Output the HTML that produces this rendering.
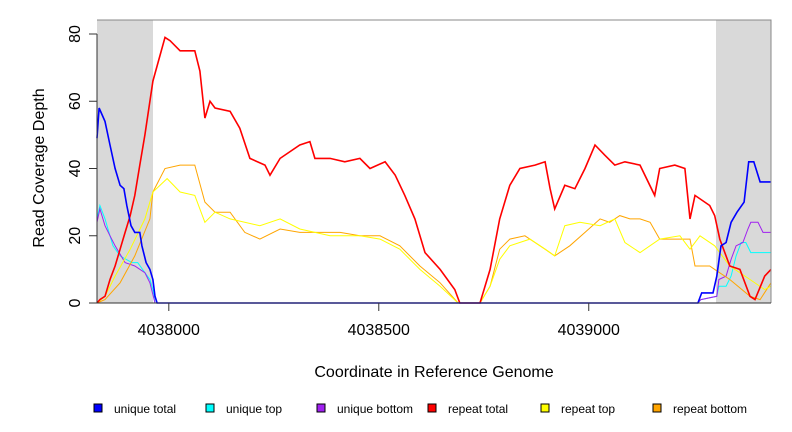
<!DOCTYPE html>
<html><head><meta charset="utf-8"><style>
body{margin:0;background:#fff;}
svg{display:block;font-family:"Liberation Sans",sans-serif;}
</style></head><body>
<svg id="chart" width="792" height="432">
  <rect x="97" y="20" width="56" height="283" fill="#d9d9d9"/>
  <rect x="716" y="20" width="55" height="283" fill="#d9d9d9"/>
  <g id="series"></g>
  <path d="M97 20H771V303" fill="none" stroke="#888" stroke-width="1"/>
  <line x1="97" y1="303" x2="771" y2="303" stroke="#333"/>
  <line x1="97" y1="34" x2="97" y2="303" stroke="#333"/>
  <g id="axes"></g>
  <text x="434" y="377" text-anchor="middle" font-size="16" fill="#000">Coordinate in Reference Genome</text>
  <text transform="translate(44,168) rotate(-90)" text-anchor="middle" font-size="16" fill="#000">Read Coverage Depth</text>
  <g id="legend"></g>
</svg>
<script>
const yTicks=[0,20,40,60,80];
const xTicks=[4038000,4038500,4039000];
const xTickLabels=["4038000","4038500","4039000"];
const repeatTotalX=[4037829,4037836,4037848,4037860,4037872,4037884,4037896,4037908,4037919,4037931,4037943,4037955,4037962,4037991,4038003,4038027,4038062,4038074,4038086,4038098,4038110,4038146,4038169,4038193,4038229,4038241,4038265,4038312,4038336,4038348,4038384,4038419,4038455,4038479,4038515,4038539,4038562,4038586,4038610,4038646,4038681,4038693,4038741,4038765,4038788,4038812,4038836,4038872,4038896,4038908,4038919,4038943,4038967,4038991,4039015,4039038,4039062,4039086,4039122,4039157,4039169,4039205,4039229,4039241,4039253,4039288,4039300,4039312,4039336,4039360,4039384,4039396,4039419,4039434];
const repeatTotal=[0,1,2,7,11,16,21,26,32,41,50,60,66,79,78,75,75,69,55,60,58,57,52,43,41,38,43,47,48,43,43,42,43,40,42,38,32,25,15,10,4,0,0,10,25,35,40,41,42,34,28,35,34,40,47,44,41,42,41,32,40,41,40,25,32,29,26,19,11,10,2,1,8,10];
const repeatTopX=[4037829,4037848,4037872,4037908,4037943,4037962,4037996,4038027,4038062,4038086,4038110,4038146,4038217,4038265,4038312,4038384,4038455,4038503,4038550,4038598,4038646,4038689,4038741,4038765,4038788,4038812,4038860,4038896,4038919,4038943,4038979,4039027,4039062,4039086,4039122,4039169,4039217,4039241,4039265,4039300,4039336,4039384,4039419,4039434];
const repeatTop=[0,2,8,16,25,33,37,33,32,24,27,25,23,25,22,20,20,19,16,10,5,0,0,5,13,17,19,16,14,23,24,23,25,18,15,19,20,16,20,17,11,7,4,5];
const repeatBottomX=[4037829,4037848,4037884,4037919,4037955,4037962,4037991,4038027,4038062,4038086,4038110,4038146,4038181,4038217,4038265,4038312,4038360,4038408,4038455,4038503,4038550,4038598,4038646,4038689,4038741,4038765,4038788,4038812,4038848,4038872,4038896,4038919,4038955,4038991,4039027,4039050,4039074,4039098,4039122,4039146,4039169,4039217,4039241,4039253,4039288,4039300,4039336,4039384,4039408,4039434];
const repeatBottom=[0,1,6,14,25,33,40,41,41,30,27,27,21,19,22,21,21,21,20,20,17,11,6,0,0,5,16,19,20,18,16,14,17,21,25,24,26,25,25,24,19,19,19,11,11,10,7,2,1,6];
const uniqueTotalX=[4037829,4037834,4037848,4037860,4037872,4037884,4037893,4037900,4037910,4037919,4037931,4037936,4037946,4037955,4037962,4037967,4037972,4039260,4039269,4039296,4039305,4039315,4039327,4039339,4039353,4039370,4039381,4039393,4039408,4039434];
const uniqueTotal=[49,58,54,47,40,35,34,29,23,21,21,17,12,10,7,2,0,0,3,3,8,17,18,24,27,30,42,42,36,36];
const uniqueTopX=[4037829,4037836,4037848,4037860,4037867,4037884,4037898,4037912,4037926,4037943,4037955,4037962,4037967,4039260,4039267,4039305,4039310,4039327,4039339,4039351,4039363,4039374,4039386,4039410,4039434];
const uniqueTop=[25,29,25,20,17,14,13,12,12,9,7,4,0,0,1,2,5,5,8,14,18,18,15,15,15];
const uniqueBottomX=[4037829,4037836,4037848,4037860,4037872,4037896,4037919,4037943,4037955,4037967,4039260,4039267,4039305,4039310,4039327,4039339,4039351,4039367,4039379,4039386,4039403,4039415,4039434];
const uniqueBottom=[24,28,23,20,17,12,11,9,6,0,0,1,2,7,8,13,17,18,22,24,24,21,21];
const legendLabels=["unique total","unique top","unique bottom","repeat total","repeat top","repeat bottom"];
const legendColors=["#0000ff","#00ffff","#a020f0","#ff0000","#ffff00","#ffa500"];

const X0=4037829,X1=4039434,PX0=97,PX1=771;
const sx=v=>PX0+(v-X0)/(X1-X0)*(PX1-PX0);
const sy=v=>303-v*(269/80);
const NS="http://www.w3.org/2000/svg";
function mk(t,a){const e=document.createElementNS(NS,t);for(const k in a)e.setAttribute(k,a[k]);return e;}
function linePath(xs,ys){let d="M"+sx(xs[0]).toFixed(1)+" "+sy(ys[0]).toFixed(1);for(let i=1;i<xs.length;i++){d+="L"+sx(xs[i]).toFixed(1)+" "+sy(ys[i]).toFixed(1);}return d;}
const sg=document.getElementById("series");
const series=[
 [uniqueTopX,uniqueTop,"#00ffff",1,"unique-top-line"],
 [uniqueBottomX,uniqueBottom,"#a020f0",1,"unique-bottom-line"],
 [repeatBottomX,repeatBottom,"#ffa500",1,"repeat-bottom-line"],
 [repeatTopX,repeatTop,"#ffff00",1,"repeat-top-line"],
 [repeatTotalX,repeatTotal,"#ff0000",1.6,"repeat-total-line"],
 [uniqueTotalX,uniqueTotal,"#0000ff",1.6,"unique-total-line"]];
series.forEach(s=>{const p=mk("path",{d:linePath(s[0],s[1]),fill:"none",stroke:s[2],"stroke-width":s[3]});
 
 
 sg.appendChild(p);});
const ag=document.getElementById("axes");
yTicks.forEach(v=>{const y=sy(v);
 const l=mk("line",{x1:89,y1:y,x2:97,y2:y,stroke:"#333"});
 
 
 ag.appendChild(l);
 const t=mk("text",{transform:`translate(80,${y}) rotate(-90)`,"text-anchor":"middle","font-size":"16"});t.textContent=v;
 
 
 ag.appendChild(t);});
xTicks.forEach((v,i)=>{const x=sx(v);
 const l=mk("line",{x1:x,y1:303,x2:x,y2:311,stroke:"#333"});
 
 
 ag.appendChild(l);
 const t=mk("text",{x:x,y:335,"text-anchor":"middle","font-size":"16"});t.textContent=xTickLabels[i];
 
 
 ag.appendChild(t);});
const lg=document.getElementById("legend");
const lx=[94,206,317,428,541,653];
legendLabels.forEach((lab,i)=>{
 const r=mk("rect",{x:lx[i],y:404,width:8,height:8,fill:legendColors[i],stroke:"#000","stroke-width":1});
 
 
 lg.appendChild(r);
 const t=mk("text",{x:lx[i]+20,y:413,"font-size":"12"});t.textContent=lab;
 
 
 lg.appendChild(t);});
</script>
</body></html>
